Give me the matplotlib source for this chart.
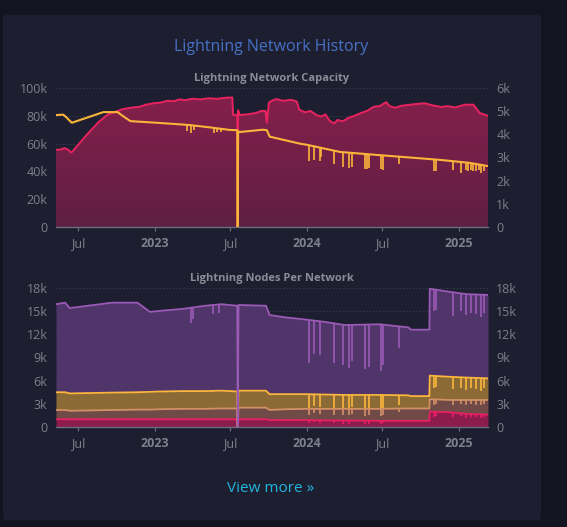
import numpy as np
import pandas as pd
import matplotlib
matplotlib.use('Agg')
import matplotlib.pyplot as plt
import matplotlib.dates as mdates
from matplotlib.patches import FancyBboxPatch
from matplotlib.ticker import FixedLocator, FuncFormatter

plt.rcParams['font.family'] = ['Open Sans', 'DejaVu Sans']

# ---------------- data ----------------
# network capacity in BTC (left axis)
cap_dates = ['2022-05-08', '2022-05-20', '2022-05-28', '2022-06-05', '2022-06-14', '2022-07-20',
             '2022-08-20', '2022-09-10', '2022-09-25', '2022-10-12', '2022-10-28', '2022-11-10',
             '2022-11-25', '2022-12-10', '2022-12-28', '2023-01-15', '2023-01-30', '2023-02-15',
             '2023-03-01', '2023-03-15', '2023-04-01', '2023-04-20', '2023-05-10', '2023-05-30',
             '2023-06-20', '2023-07-06', '2023-07-08', '2023-07-18', '2023-07-19', '2023-07-20',
             '2023-07-24', '2023-08-15', '2023-09-01', '2023-09-14', '2023-09-24', '2023-09-27',
             '2023-10-02', '2023-10-10', '2023-10-20', '2023-11-05', '2023-11-25', '2023-12-08',
             '2023-12-14', '2023-12-28', '2024-01-10', '2024-01-25', '2024-02-05', '2024-02-15',
             '2024-02-25', '2024-03-07', '2024-03-15', '2024-03-28', '2024-04-10', '2024-04-25',
             '2024-05-10', '2024-05-25', '2024-06-10', '2024-06-25', '2024-07-10', '2024-07-18',
             '2024-08-01', '2024-08-15', '2024-09-01', '2024-09-20', '2024-10-11', '2024-10-30',
             '2024-11-20', '2024-12-05', '2024-12-23', '2025-01-15', '2025-02-05', '2025-02-20',
             '2025-03-12']
cap_btc = [55500, 55800, 56800, 55800, 53500, 66000,
           76000, 81000, 82500, 84500, 85500, 86000,
           86500, 88000, 89000, 89500, 90800, 90500,
           91800, 91200, 92300, 91800, 92600, 92200,
           93000, 93200, 80500, 80800, 0, 84000,
           80500, 81200, 82000, 83500, 83500, 75000,
           89500, 91000, 92000, 90800, 91500, 90300,
           84500, 82500, 83500, 80500, 79500, 81000,
           76500, 74500, 77000, 76000, 78500, 80000,
           82000, 83500, 86500, 87000, 89800, 87000,
           85800, 87200, 87800, 88500, 89000, 87500,
           86300, 87000, 86000, 88000, 88000, 82000,
           80000]

# channel count (right axis)
chan_dates = ['2022-05-08', '2022-05-25', '2022-06-01', '2022-06-15', '2022-08-30', '2022-10-03',
              '2022-10-15', '2022-11-03', '2023-01-13', '2023-03-26', '2023-05-13', '2023-06-30',
              '2023-07-18', '2023-07-19', '2023-07-20', '2023-07-24', '2023-09-17', '2023-09-27',
              '2023-10-04', '2023-12-15', '2024-01-01', '2024-03-21', '2024-06-25', '2024-09-05',
              '2024-11-15', '2025-01-26', '2025-03-12']
chan_count = [4830, 4850, 4750, 4500, 4960, 4960,
              4800, 4570, 4490, 4400, 4300, 4190,
              4180, 0, 4120, 4100, 4200, 4180,
              3900, 3600, 3550, 3240, 3100, 3000,
              2900, 2770, 2630]
chan_dip_dates = ['2023-03-20', '2023-03-28', '2023-04-05', '2023-05-22', '2023-05-30', '2023-06-08',
                  '2024-01-06', '2024-01-19', '2024-02-01', '2024-02-05', '2024-03-07', '2024-03-29',
                  '2024-04-11', '2024-04-19', '2024-05-20', '2024-05-24', '2024-05-29', '2024-06-28',
                  '2024-07-02', '2024-08-10', '2024-11-01', '2024-11-07', '2024-12-19', '2025-01-05',
                  '2025-01-18', '2025-01-24', '2025-01-30', '2025-02-05', '2025-02-12', '2025-02-18',
                  '2025-02-24', '2025-03-02']
chan_dip_count = [4150, 4050, 4200, 4050, 4100, 4100,
                  2850, 2900, 2850, 3000, 2700, 2600,
                  2550, 2600, 2500, 2500, 2550, 2500,
                  2450, 2700, 2400, 2400, 2450, 2350,
                  2450, 2400, 2450, 2400, 2400, 2450,
                  2350, 2400]

# nodes per network (stacked, bottom to top)
node_dates = ['2022-05-08', '2022-05-30', '2022-06-10', '2022-09-20', '2022-11-20', '2022-12-20',
              '2023-01-15', '2023-03-10', '2023-05-01', '2023-06-10', '2023-07-18', '2023-07-19',
              '2023-07-21', '2023-09-25', '2023-10-04', '2023-11-10', '2024-01-01', '2024-02-15',
              '2024-04-01', '2024-06-25', '2024-09-01', '2024-09-08', '2024-10-22', '2024-10-23',
              '2024-12-10', '2025-01-20', '2025-03-12']
nodes_unknown = [1000, 1000, 1000, 1000, 1000, 1000,
                 1000, 1000, 1000, 1000, 1000, 0,
                 1000, 1000, 900, 900, 900, 850,
                 850, 800, 800, 800, 800, 2000,
                 1900, 1700, 1600]
nodes_clearnet_tor = [1200, 1200, 1100, 1200, 1250, 1250,
                      1300, 1350, 1350, 1400, 1400, 0,
                      1500, 1500, 1300, 1400, 1450, 1500,
                      1500, 1550, 1600, 1600, 1600, 1600,
                      1600, 1800, 1900]
nodes_clearnet = [2300, 2300, 2250, 2250, 2250, 2300,
                  2300, 2300, 2300, 2300, 2200, 0,
                  2200, 2200, 2050, 1950, 1900, 1850,
                  1800, 1800, 1700, 1600, 1600, 3050,
                  3000, 2900, 2800]
nodes_tor = [11400, 11600, 11050, 11650, 11600, 10350,
             10450, 10650, 11050, 11200, 11100, 0,
             11100, 11000, 10250, 9950, 9650, 9400,
             9050, 9150, 8800, 8600, 8600, 11250,
             11000, 10800, 10800]

# short outages: value each stacked line falls to
node_dip_dates = ['2023-03-28', '2023-04-02', '2023-05-20', '2023-06-05', '2024-01-06', '2024-01-19',
                  '2024-02-01', '2024-03-07', '2024-03-29', '2024-04-11', '2024-04-19', '2024-05-20',
                  '2024-05-29', '2024-06-28', '2024-07-02', '2024-08-10', '2024-11-01', '2024-11-07',
                  '2024-12-19', '2025-01-05', '2025-01-18', '2025-01-30', '2025-02-12', '2025-02-24',
                  '2025-03-02']
dip_total = [13500, 14000, 14600, 14800, 8300, 9500,
             9300, 8300, 8000, 7600, 8500, 7500,
             7800, 7300, 8000, 10200, 15000, 15200,
             14400, 15000, 14500, 14800, 14600, 14300,
             14800]
dip_clearnet_top = [4500, 4600, 4550, 4600, 2500, 2700,
                    2600, 2500, 2400, 2300, 2600, 2200,
                    2400, 2200, 2500, 2900, 5000, 5200,
                    4900, 5100, 4800, 5000, 4900, 4700,
                    5000]
dip_cltor_top = [2300, 2350, 2400, 2400, 1600, 1800,
                 1700, 1600, 1500, 1500, 1700, 1400,
                 1600, 1400, 1600, 1900, 2900, 3000,
                 2900, 3000, 2850, 3000, 2900, 2800,
                 3000]
dip_unknown_top = [1000, 1000, 1000, 1000, 500, 600,
                   550, 500, 450, 400, 600, 350,
                   450, 350, 500, 650, 1300, 1400,
                   1300, 1400, 1200, 1300, 1250, 1200,
                   1300]

tick_dates = ['2022-07-01', '2023-01-01', '2023-07-01', '2024-01-01', '2024-07-01', '2025-01-01']
tick_labels = ['Jul', '2023', 'Jul', '2024', 'Jul', '2025']

# ---------------- style ----------------
BG = '#12141f'
CARD = '#1d1f31'
GRID = '#3c3f55'
TXT = '#7c7f8c'
AXLINE = '#6c6e80'

x_lo, x_hi = mdates.date2num(pd.Timestamp('2022-05-08')), mdates.date2num(pd.Timestamp('2025-03-12'))


def dnum(lst):
    return mdates.date2num(pd.to_datetime(lst))


def kfmt(v, pos):
    return '0' if v == 0 else '%dk' % round(v / 1000)


def style_axes(ax, axr, ymax, step):
    ticks = np.arange(0, ymax + 1, step)
    for a in (ax, axr):
        for s in a.spines.values():
            s.set_visible(False)
        a.set_xlim(x_lo, x_hi)
        a.tick_params(axis='y', length=0, colors=TXT, labelsize=9, pad=6)
        a.set_facecolor('none')
    ax.spines['bottom'].set_visible(True)
    ax.spines['bottom'].set_color(AXLINE)
    ax.spines['bottom'].set_linewidth(1.0)
    ax.spines['bottom'].set_zorder(5)
    ax.set_ylim(0, ymax)
    ax.yaxis.set_major_locator(FixedLocator(ticks))
    ax.yaxis.set_major_formatter(FuncFormatter(kfmt))
    for t in ticks[1:]:
        ax.axhline(t, color=GRID, lw=0.8, ls=(0, (1, 2)), zorder=0.5)
    ax.set_xticks(dnum(tick_dates))
    ax.set_xticklabels(tick_labels)
    ax.tick_params(axis='x', length=3, color=AXLINE, colors=TXT, labelsize=9, pad=4)
    for lab in ax.get_xticklabels():
        if lab.get_text().isdigit():
            lab.set_fontweight('bold')
    axr.tick_params(axis='x', length=0, labelbottom=False)


fig = plt.figure(figsize=(5.67, 5.27), dpi=100)
fig.patch.set_facecolor(BG)
W, H = 567.0, 527.0

card = FancyBboxPatch((3 / W, 1 - 520 / H), 538 / W, 505 / H,
                      boxstyle='round,pad=0,rounding_size=0.006',
                      transform=fig.transFigure, facecolor=CARD, edgecolor='none', zorder=-5)
fig.patches.append(card)

fig.text(271 / W, 1 - 47 / H, 'Lightning Network History', color='#4771c4',
         fontsize=11.5, ha='center', va='center')
fig.text(272 / W, 1 - 79 / H, 'Lightning Network Capacity', color='#8a8c96',
         fontsize=8, fontweight='bold', ha='center', va='center')
fig.text(272 / W, 1 - 279 / H, 'Lightning Nodes Per Network', color='#8a8c96',
         fontsize=8, fontweight='bold', ha='center', va='center')
fig.text(271 / W, 1 - 489 / H, 'View more \u00bb', color='#1fb8de',
         fontsize=11, ha='center', va='center')

# ---------------- capacity chart ----------------
ax1 = fig.add_axes([56 / W, 1 - 227 / H, 432 / W, 139 / H])
ax1r = ax1.twinx()
cx = dnum(cap_dates)
cy = np.array(cap_btc, dtype=float)
poly = ax1.fill_between(cx, 0, cy, color='none', lw=0)
grad = np.zeros((100, 1, 4))
c_top = np.array(matplotlib.colors.to_rgba('#861f4c'))
c_bot = np.array(matplotlib.colors.to_rgba('#5f2042'))
for i in range(100):
    grad[i, 0] = c_bot + (c_top - c_bot) * i / 99.0
im = ax1.imshow(grad, extent=[x_lo, x_hi, 0, 100000], origin='lower', aspect='auto', zorder=1)
im.set_clip_path(poly.get_paths()[0], transform=ax1.transData)
ax1.plot(cx, cy, color='#e8235f', lw=1.4, zorder=2)
style_axes(ax1, ax1r, 100000, 20000)

hx = dnum(chan_dates)
hy = np.array(chan_count, dtype=float)
ax1r.plot(hx, hy, color='#fbb43a', lw=1.5, zorder=3)
dx = dnum(chan_dip_dates)
ax1r.vlines(dx, chan_dip_count, np.interp(dx, hx, hy), color='#fbb43a', lw=1.2)
ax1r.set_ylim(0, 6000)
ax1r.yaxis.set_major_locator(FixedLocator(np.arange(0, 6001, 1000)))
ax1r.yaxis.set_major_formatter(FuncFormatter(kfmt))

# ---------------- nodes chart ----------------
ax2 = fig.add_axes([56 / W, 1 - 427 / H, 432 / W, 139 / H])
ax2r = ax2.twinx()
nx = dnum(node_dates)
layers = [np.array(nodes_unknown, float), np.array(nodes_clearnet_tor, float),
          np.array(nodes_clearnet, float), np.array(nodes_tor, float)]
fills = ['#8b1c4b', '#6f4a47', '#8b6a35', '#50356b']
lines = ['#e91e63', '#d39068', '#fcb63c', '#9a5ab6']
dips = [dip_unknown_top, dip_cltor_top, dip_clearnet_top, dip_total]
ndx = dnum(node_dip_dates)
bottom = np.zeros(len(nx))
tops = []
for lay, fc in zip(layers, fills):
    top = bottom + lay
    ax2.fill_between(nx, bottom, top, color=fc, lw=0, zorder=1)
    tops.append(top)
    bottom = top
for top, lc, dv in zip(tops, lines, dips):
    ax2.vlines(ndx, dv, np.interp(ndx, nx, top), color=lc, lw=1.2, zorder=2)
for top, lc in zip(tops, lines):
    ax2.plot(nx, top, color=lc, lw=1.3, zorder=3)
style_axes(ax2, ax2r, 18000, 3000)
ax2r.set_ylim(0, 18000)
ax2r.yaxis.set_major_locator(FixedLocator(np.arange(0, 18001, 3000)))
ax2r.yaxis.set_major_formatter(FuncFormatter(kfmt))

fig.savefig('out.png', dpi=100, facecolor=BG)
